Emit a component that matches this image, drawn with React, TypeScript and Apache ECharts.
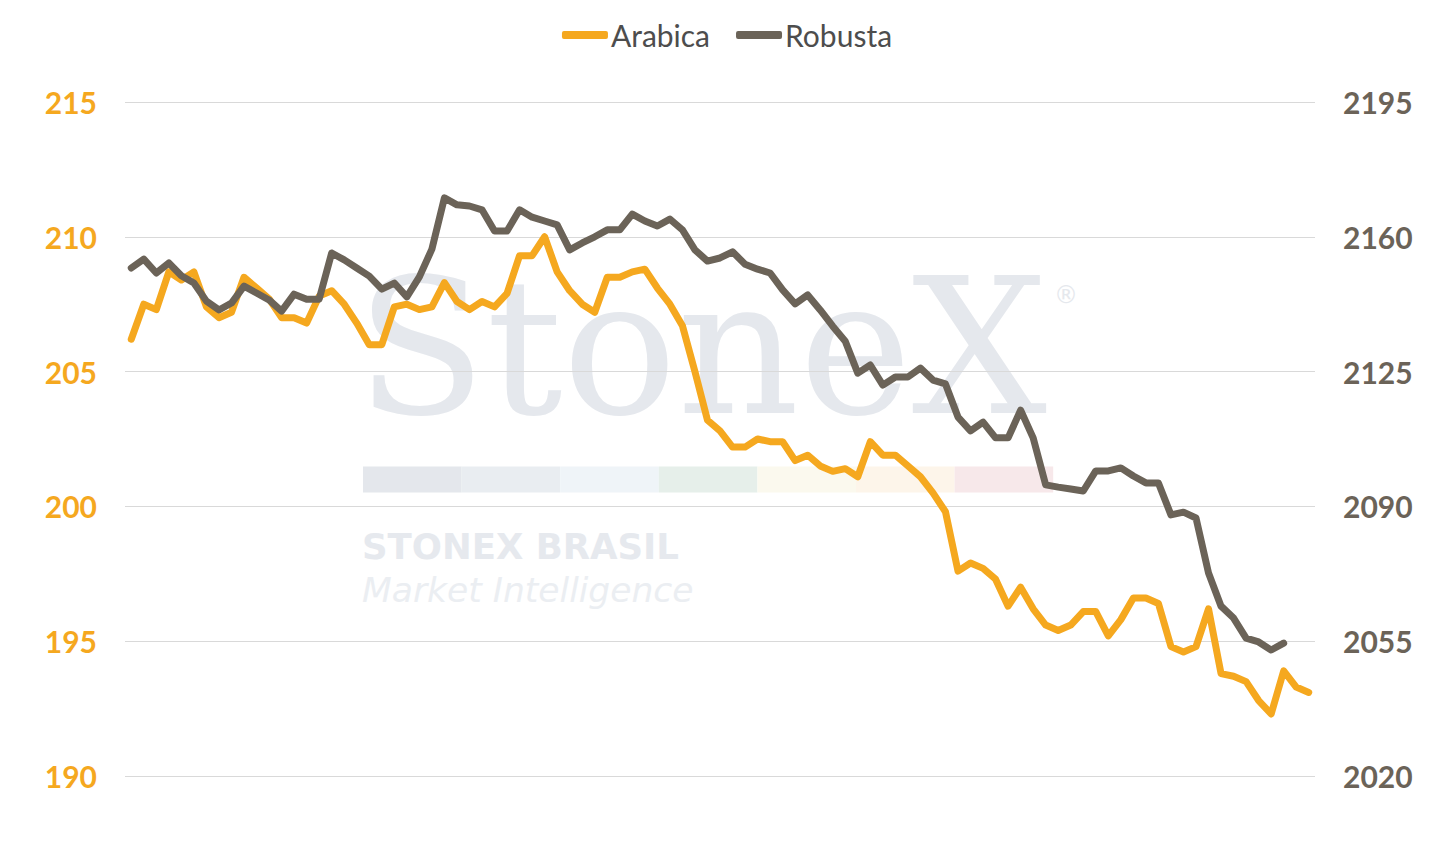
import React, { useEffect, useRef } from "react";
import * as echarts from "echarts";

// ---------- data ----------
const arabica: number[] = [
  206.2, 207.5, 207.3, 208.7, 208.4, 208.7, 207.4, 207.0, 207.2, 208.5,
  208.1, 207.7, 207.0, 207.0, 206.8, 207.8, 208.0, 207.5, 206.8, 206.0,
  206.0, 207.4, 207.5, 207.3, 207.4, 208.3, 207.6, 207.3, 207.6, 207.4,
  207.9, 209.3, 209.3, 210.0, 208.7, 208.0, 207.5, 207.2, 208.5, 208.5,
  208.7, 208.8, 208.1, 207.5, 206.7, 205.0, 203.2, 202.8, 202.2, 202.2,
  202.5, 202.4, 202.4, 201.7, 201.9, 201.5, 201.3, 201.4, 201.1, 202.4,
  201.9, 201.9, 201.5, 201.1, 200.5, 199.8, 197.6, 197.9, 197.7, 197.3,
  196.3, 197.0, 196.2, 195.6, 195.4, 195.6, 196.1, 196.1, 195.2, 195.8,
  196.6, 196.6, 196.4, 194.8, 194.6, 194.8, 196.2, 193.8, 193.7, 193.5,
  192.8, 192.3, 193.9, 193.3, 193.1,
];

const robusta: number[] = [
  2151.9, 2154.2, 2150.6, 2153.2, 2149.9, 2148.0, 2143.3, 2141.0, 2142.8, 2147.2,
  2145.4, 2143.6, 2140.7, 2145.1, 2143.8, 2143.8, 2155.8, 2154.0, 2151.9, 2149.8,
  2146.4, 2148.0, 2144.4, 2149.6, 2156.8, 2170.1, 2168.3, 2168.0, 2167.0, 2161.5,
  2161.5, 2167.0, 2165.1, 2164.1, 2163.1, 2156.6, 2158.4, 2160.0, 2161.8, 2161.8,
  2165.9, 2164.1, 2162.8, 2164.6, 2161.8, 2156.6, 2153.7, 2154.5, 2156.1, 2152.9,
  2151.6, 2150.6, 2146.2, 2142.6, 2144.9, 2141.0, 2136.8, 2132.9, 2124.6, 2126.7,
  2121.5, 2123.6, 2123.6, 2125.9, 2122.8, 2121.8, 2113.2, 2109.6, 2111.9, 2107.8,
  2107.8, 2115.0, 2107.8, 2095.6, 2095.0, 2094.5, 2094.0, 2099.2, 2099.2, 2100.0,
  2097.9, 2096.1, 2096.1, 2087.8, 2088.5, 2087.0, 2072.7, 2064.1, 2061.0, 2055.8,
  2054.8, 2052.7, 2054.5,
];

const categories: string[] = arabica.map((_, i) => String(i + 1));

const leftTicks = [190, 195, 200, 205, 210, 215];
const rightTicks = [2020, 2055, 2090, 2125, 2160, 2195];

const seriesNames = ["Arabica", "Robusta"];

// ---------- styles ----------
const ORANGE = "#F5A81F";
const GRAY = "#6B6358";
const WM = "#E5E8ED";
const barColors = ["#E4E7EC", "#E9EDF1", "#EFF4F8", "#E6EFEA", "#FBF9EE", "#FDF5EA", "#F7E8EA"];

function buildOption(): echarts.EChartsOption {
  const bars = barColors.map((c, i) => ({
    type: "rect",
    z: -10,
    shape: { x: 363 + i * 98.6, y: 466.5, width: 98.6, height: 26 },
    style: { fill: c },
  }));
  return {
    animation: false,
    backgroundColor: "#ffffff",
    graphic: [
      {
        type: "text",
        z: -10,
        x: 356,
        y: 347,
        style: {
          text: "StoneX",
          fontSize: 190,
          fontFamily: "DejaVu Serif",
          fill: WM,
          textVerticalAlign: "middle",
        },
      },
      {
        type: "text",
        z: -10,
        x: 1054,
        y: 295,
        style: {
          text: "®",
          fontSize: 24,
          fontFamily: "DejaVu Sans",
          fill: WM,
          textVerticalAlign: "middle",
        },
      },
      ...bars,
      {
        type: "text",
        z: -10,
        x: 362,
        y: 546,
        style: {
          text: "STONEX BRASIL",
          fontSize: 35.5,
          fontWeight: "bold",
          fontFamily: "DejaVu Sans",
          fill: "#E6E9EE",
          textVerticalAlign: "middle",
        },
      },
      {
        type: "text",
        z: -10,
        x: 362,
        y: 590,
        style: {
          text: "Market Intelligence",
          fontSize: 34.5,
          fontStyle: "italic",
          fontWeight: 200,
          fontFamily: "DejaVu Sans",
          fill: "#EBEEF2",
          textVerticalAlign: "middle",
        },
      },
    ] as any,
    legend: {
      top: 15,
      left: "center",
      icon: "roundRect",
      itemWidth: 46,
      itemHeight: 8,
      itemGap: 26,
      data: seriesNames,
      textStyle: {
        fontFamily: "Lato",
        fontSize: 30,
        color: "#4D4D4D",
        padding: [0, 0, 0, -2],
      },
    },
    grid: { left: 125, right: 139, top: 102, bottom: 66 },
    xAxis: {
      type: "category",
      data: categories,
      boundaryGap: true,
      axisLine: { show: false },
      axisTick: { show: false },
      axisLabel: { show: false },
      splitLine: { show: false },
    },
    yAxis: [
      {
        type: "value",
        position: "left",
        min: 190,
        max: 215,
        interval: 5,
        axisLine: { show: false },
        axisTick: { show: false },
        splitLine: { show: true, lineStyle: { color: "#D9D9D9", width: 1 } },
        axisLabel: {
          customValues: leftTicks,
          formatter: (v: number) => String(v),
          margin: 28,
          color: ORANGE,
          fontSize: 30,
          fontWeight: "bold",
          fontFamily: "Lato",
        },
      } as any,
      {
        type: "value",
        position: "right",
        min: 2020,
        max: 2195,
        axisLine: { show: false },
        axisTick: { show: false },
        splitLine: { show: false },
        axisLabel: {
          customValues: rightTicks,
          formatter: (v: number) => String(v),
          margin: 28,
          color: GRAY,
          fontSize: 30,
          fontWeight: "bold",
          fontFamily: "Lato",
        },
      } as any,
    ],
    series: [
      {
        name: seriesNames[0],
        type: "line",
        yAxisIndex: 0,
        data: arabica,
        symbol: "none",
        color: ORANGE,
        lineStyle: { color: ORANGE, width: 7, cap: "round", join: "round" },
        z: 2,
      },
      {
        name: seriesNames[1],
        type: "line",
        yAxisIndex: 1,
        data: robusta,
        symbol: "none",
        color: GRAY,
        lineStyle: { color: GRAY, width: 7, cap: "round", join: "round" },
        z: 3,
      },
    ],
  };
}

export default function App() {
  const ref = useRef<HTMLDivElement>(null);
  useEffect(() => {
    if (!ref.current) return;
    const chart = echarts.init(ref.current, null, { renderer: "svg" });
    chart.setOption(buildOption());
    return () => chart.dispose();
  }, []);
  return (
    <div
      ref={ref}
      style={{ position: "fixed", left: 0, top: 0, width: 1454, height: 842, background: "#fff" }}
    />
  );
}
